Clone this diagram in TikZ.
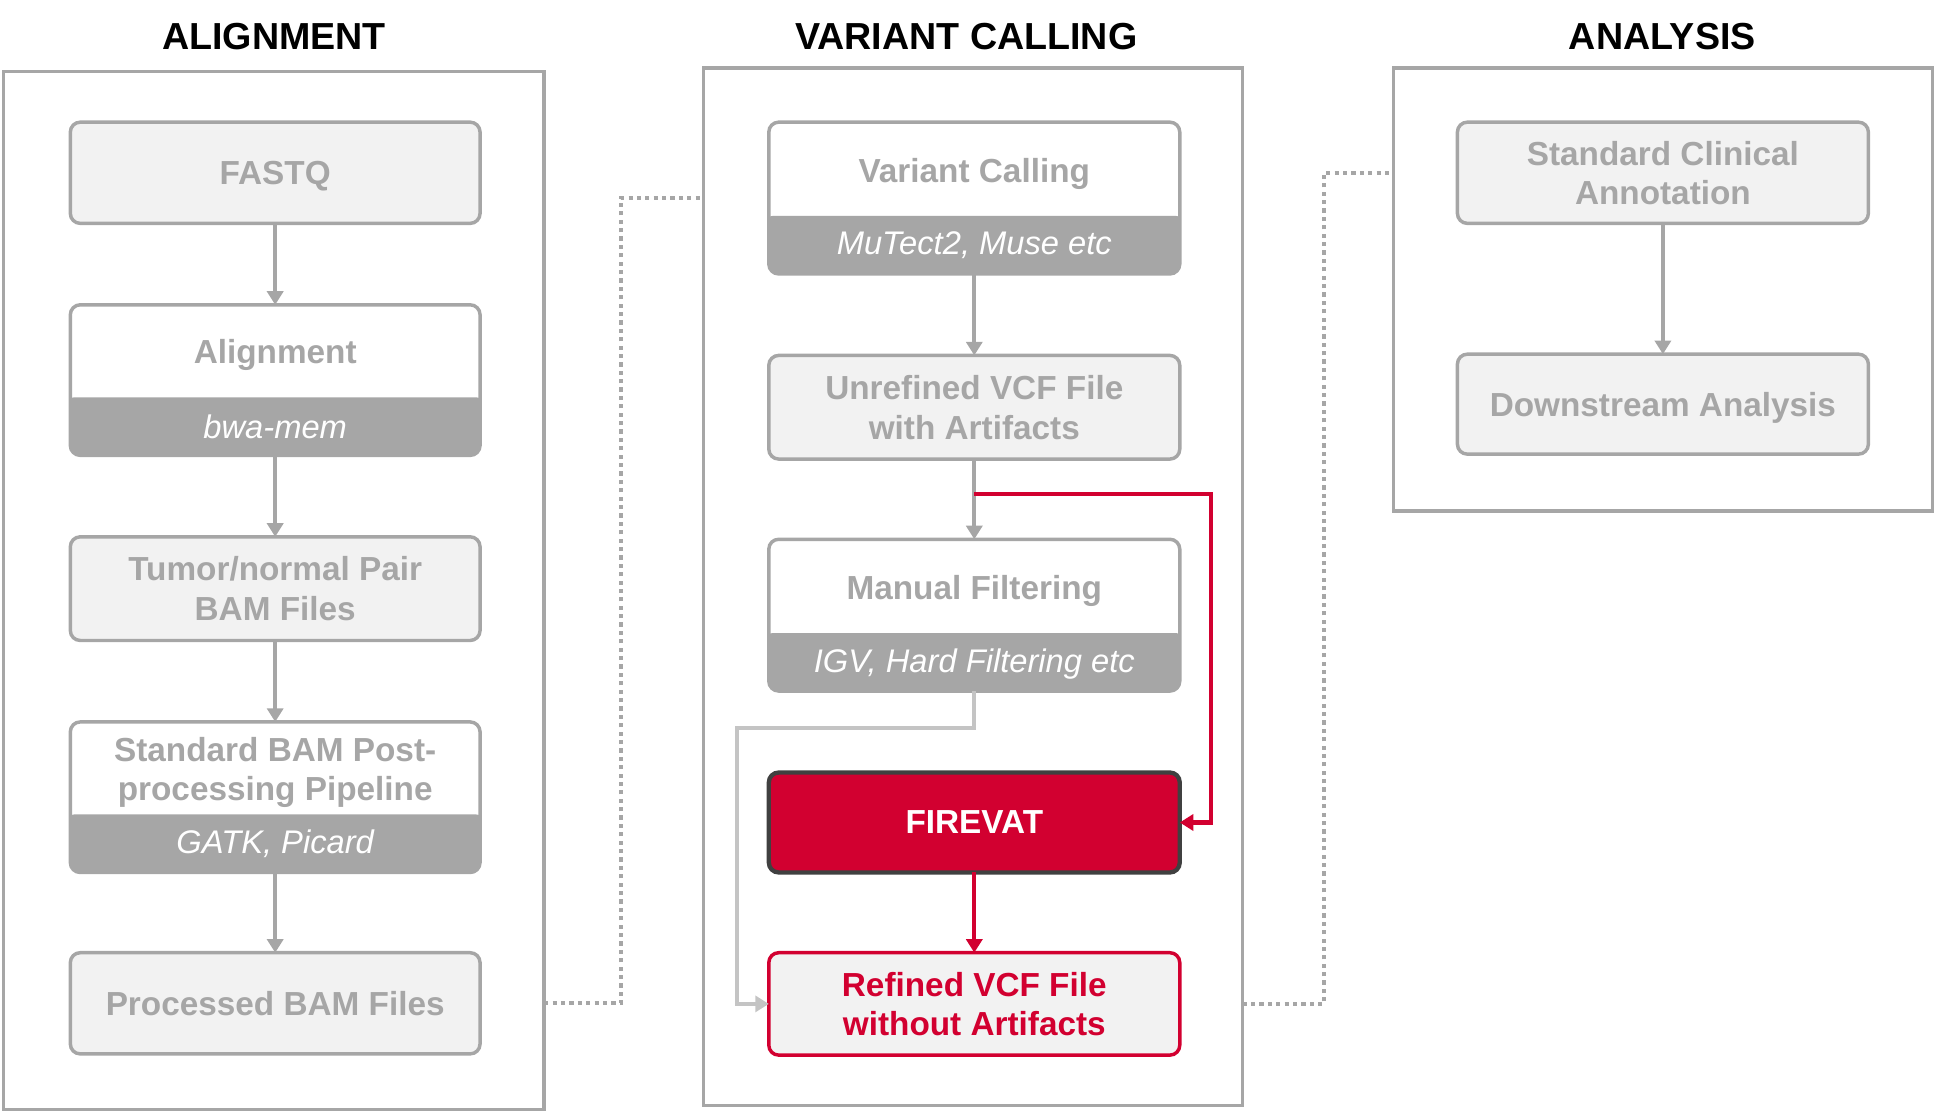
\documentclass[tikz,border=0pt]{standalone}
\usepackage{fontspec}
\setmainfont{Liberation Sans}
\usetikzlibrary{arrows.meta,calc}
\definecolor{lg}{HTML}{A6A6A6}
\definecolor{boxfill}{HTML}{F2F2F2}
\definecolor{fred}{HTML}{D20030}
\definecolor{dk}{HTML}{404040}
\definecolor{lgl}{HTML}{C4C4C4}
\begin{document}
\begin{tikzpicture}[x=1pt,y=-1pt,
  panel/.style={draw=lg, line width=2.8pt, inner sep=0pt, outer sep=0pt},
  title/.style={font=\bfseries\fontsize{30.5}{36}\selectfont, text=black, inner sep=0pt},
  box/.style={draw=lg, line width=2.8pt, rounded corners=8pt, fill=boxfill,
    minimum width=332pt, text=lg, font=\bfseries\fontsize{27}{32}\selectfont,
    align=center, inner sep=0pt, outer sep=0pt, text depth=0pt},
  bandbox/.style={box, fill=white, path picture={
    \fill[lg] ([xshift=-5pt,yshift=-5pt]path picture bounding box.south west)
      rectangle ([xshift=5pt,yshift=47pt]path picture bounding box.south east);}},
  boxtitle/.style={text=lg, font=\bfseries\fontsize{27}{32}\selectfont, align=center, inner sep=0pt, text depth=0pt},
  bandtext/.style={text=white, font=\itshape\fontsize{26.5}{32}\selectfont, inner sep=0pt},
  garrow/.style={draw=lg, line width=3pt, -{Triangle[width=13pt,length=11pt]}},
  rarrow/.style={draw=fred, line width=3.4pt, -{Triangle[width=13pt,length=11pt]}},
  larrow/.style={draw=lgl, line width=3pt, -{Triangle[width=13pt,length=11pt]}},
  dotline/.style={draw=lg, line width=3.4pt, dash pattern=on 3.4pt off 3.4pt}
]
\useasboundingbox (0,0) rectangle (1568,901);

% titles
\node[title] (t1) at (222,30) {ALIGNMENT};
\node[title] (t2) at (783,30) {VARIANT CALLING};
\node[title] (t3) at (1347,30) {ANALYSIS};

% panels
\node[panel, minimum width=438pt, minimum height=841pt] (lp) at (222,478.5) {};
\node[panel, minimum width=437pt, minimum height=841pt] (mp) at (788.5,475.5) {};
\node[panel, minimum width=437pt, minimum height=359pt] (rp) at (1347.5,234.5) {};

% left column
\node[box, minimum height=82pt] (fastq) at (223,140) {FASTQ};
\node[bandbox, minimum height=122pt] (aln) at (223,308) {};
\node[boxtitle] (alnt) at (223,285) {Alignment};
\node[bandtext] (alnb) at (223,346) {bwa-mem};
\node[box, minimum height=84pt] (tn) at (223,477) {Tumor/normal Pair\\BAM Files};
\node[bandbox, minimum height=122pt] (std) at (223,646) {};
\node[boxtitle] (stdt) at (223,623) {Standard BAM Post-\\processing Pipeline};
\node[bandtext] (stdb) at (223,684) {GATK, Picard};
\node[box, minimum height=82pt] (proc) at (223,813) {Processed BAM Files};

\draw[garrow] (fastq) -- (aln);
\draw[garrow] (aln) -- (tn);
\draw[garrow] (tn) -- (std);
\draw[garrow] (std) -- (proc);

% middle column
\node[bandbox, minimum height=123pt, minimum width=333pt] (vc) at (789.5,160.5) {};
\node[boxtitle] (vct) at (789.5,138) {Variant Calling};
\node[bandtext] (vcb) at (789.5,199) {MuTect2, Muse etc};
\node[box, minimum height=84pt, minimum width=333pt] (unref) at (789.5,330) {Unrefined VCF File\\with Artifacts};
\node[bandbox, minimum height=123pt, minimum width=333pt] (man) at (789.5,498.5) {};
\node[boxtitle] (mant) at (789.5,476) {Manual Filtering};
\node[bandtext] (manb) at (789.5,538) {IGV, Hard Filtering etc};
\node[box, minimum height=81pt, minimum width=333pt, fill=fred, draw=dk, line width=3.5pt, text=white] (fire) at (789.5,666.5) {FIREVAT};
\node[box, minimum height=83pt, minimum width=333pt, draw=fred, text=fred] (refd) at (789.5,813.5) {Refined VCF File\\without Artifacts};

\coordinate (split) at (789.5,400);
\draw[garrow] (vc) -- (unref);
\draw[garrow] (unref) -- (man);
\draw[rarrow] (split) -- (981,400) |- (fire.east);
\draw[rarrow] (fire) -- (refd);
\draw[larrow] (man.south) |- (597,590) |- (refd.west);

% right column
\node[box, minimum height=82pt, minimum width=333pt] (sca) at (1347.5,140) {Standard Clinical\\Annotation};
\node[box, minimum height=81pt, minimum width=333pt] (da) at (1347.5,327.5) {Downstream Analysis};
\draw[garrow] (sca) -- (da);

% dotted links between panels
\draw[dotline] (lp.east |- proc) -- (503,813) |- (mp.west |- vc);
\draw[dotline] (mp.east |- refd) -- (1073,813.5) |- (rp.west |- sca);
\end{tikzpicture}
\end{document}
